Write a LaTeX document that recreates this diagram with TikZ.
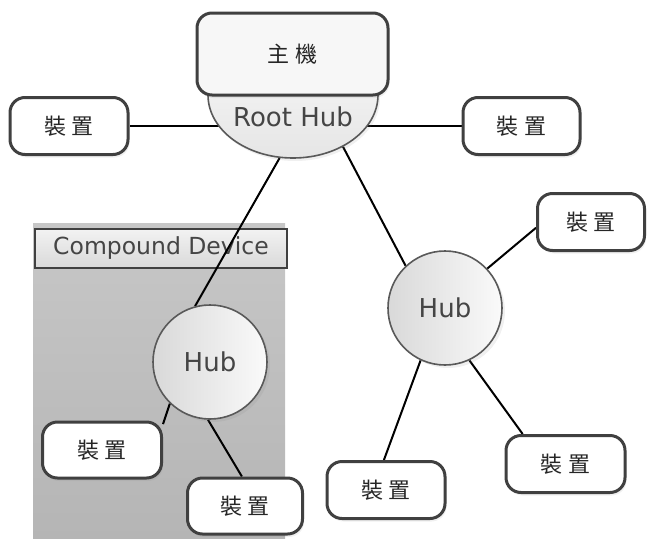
\documentclass[tikz,border=0pt]{standalone}
\usepackage{fontspec}
\setmainfont{DejaVu Sans}
\newfontfamily\cjk{Noto Sans CJK TC}
\usetikzlibrary{shapes.geometric,shadows}
\pgfdeclarelayer{bg}
\pgfdeclarelayer{edges}
\pgfsetlayers{bg,edges,main}
\definecolor{boxedge}{HTML}{404040}
\definecolor{txtgray}{HTML}{454545}
\newcommand{\zhz}[2]{{\cjk #1\hspace{6pt}#2}}
\tikzset{
  devbox/.style={draw=boxedge, line width=3pt, rounded corners=15pt, fill=white,
    inner sep=0pt, minimum height=57pt, text=black!85,
    font=\fontsize{22}{24}\selectfont,
    drop shadow={opacity=0.12, shadow xshift=1.5pt, shadow yshift=-3pt}},
  hub/.style={circle, draw=black!65, line width=1.6pt, minimum size=114pt, inner sep=0pt,
    left color=black!15, right color=black!2, text=txtgray,
    font=\fontsize{26}{30}\selectfont,
    drop shadow={opacity=0.12, shadow xshift=3pt, shadow yshift=-3pt}},
  wire/.style={draw=black, line width=2pt},
}
\begin{document}
\begin{tikzpicture}[x=1pt,y=-1pt]
\useasboundingbox (0,0) rectangle (647,538);
% compound device background
\begin{pgfonlayer}{bg}
  \node (cbg) [anchor=north west, minimum width=252pt, minimum height=315pt, inner sep=0pt,
    top color=black!22, bottom color=black!29] at (33,223) {};
  \node (ctitle) [anchor=north west, minimum width=252pt, minimum height=39pt, inner sep=0pt,
    draw=boxedge, line width=2pt, top color=black!5, bottom color=black!15,
    text=txtgray, font=\fontsize{23.5}{26}\selectfont] at (34,228) {Compound Device};
\end{pgfonlayer}
% root hub (half ellipse under host box)
\node (root) [ellipse, draw=black!65, line width=1.6pt, minimum width=170pt, minimum height=126pt,
  inner sep=0pt, top color=black!2, bottom color=black!10,
  drop shadow={opacity=0.12, shadow xshift=2pt, shadow yshift=-3pt}] at (293,95) {};
\node (roottext) [text=txtgray, font=\fontsize{26}{30}\selectfont] at (293,117) {Root Hub};
\node (host) [devbox, minimum width=191pt, minimum height=82pt, fill=black!3] at (292.5,54) {\zhz{主}{機}};
% devices
\node (ld)  [devbox, minimum width=118pt] at (69,126)    {\zhz{裝}{置}};
\node (rd)  [devbox, minimum width=117pt] at (521.5,126) {\zhz{裝}{置}};
\node (dtr) [devbox, minimum width=107pt] at (591,222)   {\zhz{裝}{置}};
\node (dbr) [devbox, minimum width=119pt] at (565.5,464) {\zhz{裝}{置}};
\node (dbl) [devbox, minimum width=118pt] at (386,490)   {\zhz{裝}{置}};
\node (da)  [devbox, minimum width=119pt, minimum height=56pt] at (102,450) {\zhz{裝}{置}};
\node (db)  [devbox, minimum width=115pt, minimum height=56pt] at (245,506) {\zhz{裝}{置}};
% hubs
\node (lhub) [hub] at (210,362) {Hub};
\node (rhub) [hub] at (445,308) {Hub};
% connectors
\begin{pgfonlayer}{edges}
  \draw[wire] (ld.east) -- (ld.east -| root.center);
  \draw[wire] (rd.west) -- (rd.west -| root.center);
  \draw[wire] (root.-102) -- (lhub.105);
  \draw[wire] (root.-46) -- (rhub.133);
  \draw[wire] (rhub.43) -- (dtr.186);
  \draw[wire] (rhub.-115) -- (dbl.94);
  \draw[wire] (rhub.-65) -- (dbr.145);
  \draw[wire] (lhub.-134) -- (da.23);
  \draw[wire] (lhub.-92) -- (db.96);
\end{pgfonlayer}
\end{tikzpicture}
\end{document}
